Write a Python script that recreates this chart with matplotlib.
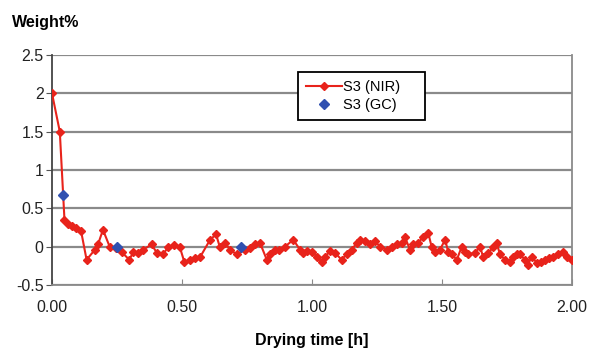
import matplotlib.pyplot as plt
import numpy as np

plt.rcParams['font.family'] = ['Liberation Sans', 'DejaVu Sans']

# NIR readings (drying time in h, weight %)
nir_t = [0.00, 0.03, 0.048, 0.062, 0.077, 0.094, 0.112, 0.133, 0.165, 0.177,
         0.196, 0.223, 0.246, 0.268, 0.297, 0.313, 0.332, 0.351, 0.383, 0.403,
         0.428, 0.447, 0.47, 0.492, 0.509, 0.531, 0.55, 0.569, 0.608, 0.631,
         0.646, 0.665, 0.685, 0.71, 0.742, 0.762, 0.781, 0.80, 0.826, 0.838,
         0.858, 0.873, 0.896, 0.928, 0.954, 0.967, 0.981, 1.00, 1.019, 1.038,
         1.05, 1.069, 1.088, 1.114, 1.133, 1.153, 1.172, 1.185, 1.204, 1.223,
         1.242, 1.262, 1.287, 1.307, 1.326, 1.345, 1.358, 1.377, 1.39, 1.409,
         1.428, 1.447, 1.46, 1.473, 1.492, 1.512, 1.524, 1.537, 1.557, 1.576,
         1.588, 1.601, 1.627, 1.646, 1.659, 1.678, 1.697, 1.71, 1.723, 1.742,
         1.762, 1.774, 1.787, 1.80, 1.819, 1.83, 1.845, 1.864, 1.88, 1.896,
         1.91, 1.928, 1.947, 1.967, 1.979, 1.999]
nir_w = [2.00, 1.50, 0.35, 0.30, 0.27, 0.25, 0.20, -0.17, -0.04, 0.03,
         0.22, -0.01, -0.02, -0.07, -0.17, -0.07, -0.08, -0.04, 0.03, -0.08,
         -0.10, 0.00, 0.02, -0.01, -0.20, -0.17, -0.15, -0.14, 0.09, 0.16,
         -0.01, 0.05, -0.04, -0.10, -0.04, -0.02, 0.03, 0.05, -0.17, -0.10,
         -0.04, -0.04, 0.00, 0.09, -0.04, -0.08, -0.05, -0.07, -0.13, -0.20,
         -0.14, -0.05, -0.08, -0.17, -0.10, -0.04, 0.05, 0.09, 0.07, 0.03,
         0.07, 0.00, -0.04, -0.01, 0.03, 0.05, 0.12, -0.04, 0.03, 0.05,
         0.13, 0.18, 0.00, -0.07, -0.04, 0.09, -0.07, -0.10, -0.17, 0.00,
         -0.07, -0.10, -0.08, 0.00, -0.14, -0.08, -0.01, 0.05, -0.10, -0.17,
         -0.20, -0.14, -0.10, -0.10, -0.17, -0.24, -0.13, -0.21, -0.20, -0.17,
         -0.15, -0.14, -0.10, -0.07, -0.14, -0.17]

# GC reference samples
gc_t = [0.044, 0.249, 0.727]
gc_w = [0.67, 0.00, 0.00]

fig = plt.figure(figsize=(5.89, 3.52), dpi=100)
ax = fig.add_axes([52/589, 1 - 285/352, 520/589, 230/352])

ax.plot(nir_t, nir_w, color='#e8231b', lw=1.5, marker='D', ms=4.5,
        mec='#e8231b', label='S3 (NIR)', zorder=3)
ax.plot(gc_t, gc_w, ls='none', marker='D', ms=5, color='#3050b0',
        label='S3 (GC)', zorder=4)

ax.set_xlim(0, 2)
ax.set_ylim(-0.5, 2.5)
ax.set_xticks([0, 0.5, 1, 1.5, 2])
ax.set_xticklabels(['0.00', '0.50', '1.00', '1.50', '2.00'])
ax.set_yticks([-0.5, 0, 0.5, 1, 1.5, 2, 2.5])
ax.set_yticklabels(['-0.5', '0', '0.5', '1', '1.5', '2', '2.5'])
ax.yaxis.grid(True, color='#8a8a8a', lw=1.6)
ax.set_axisbelow(True)
ax.tick_params(axis='y', direction='out', length=4, color='#555555',
               labelsize=11.5, colors='#222222', pad=2)
ax.tick_params(axis='x', direction='in', length=4, color='#8a8a8a',
               labelsize=11.5, colors='#222222', pad=11)
ax.spines['top'].set_visible(False)
ax.spines['left'].set_color('#444444')
ax.spines['bottom'].set_color('#8a8a8a')
ax.spines['right'].set_color('#8a8a8a')
for s in ax.spines.values():
    s.set_linewidth(1.3)

fig.text(12/589, 1 - 22/352, 'Weight%', fontsize=11.5, fontweight='bold',
         va='center', ha='left')
fig.text(312/589, 1 - 341/352, 'Drying time [h]', fontsize=11.5,
         fontweight='bold', va='center', ha='center')

leg = ax.legend(loc='upper left', bbox_to_anchor=(0.473, 0.709, 0.244, 0.216),
                mode='expand', fontsize=10.5, frameon=True, fancybox=False,
                framealpha=1, edgecolor='black', handlelength=2.5,
                handletextpad=0.05, borderpad=0.55, labelspacing=0.25,
                borderaxespad=0)
leg.get_frame().set_linewidth(1.3)

fig.savefig('out.png', dpi=100)
